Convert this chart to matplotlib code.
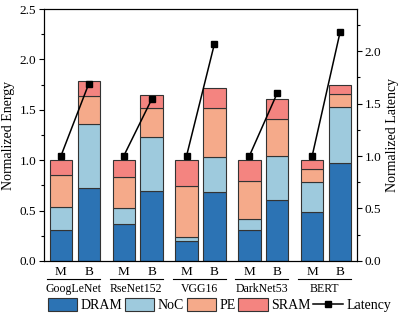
import matplotlib
matplotlib.use("Agg")
import matplotlib.pyplot as plt
import matplotlib.transforms as mtransforms
from matplotlib.ticker import MultipleLocator
import numpy as np

plt.rcParams['font.family'] = ['Liberation Serif', 'DejaVu Serif']

models = ['GoogLeNet', 'RseNet152', 'VGG16', 'DarkNet53', 'BERT']
configs = ['M', 'B']

# energy breakdown, order per model: M, B
dram = [0.31, 0.72, 0.37, 0.69, 0.20, 0.68, 0.31, 0.60, 0.49, 0.97]
noc = [0.23, 0.64, 0.16, 0.54, 0.04, 0.35, 0.11, 0.44, 0.29, 0.56]
pe = [0.31, 0.28, 0.30, 0.29, 0.50, 0.49, 0.37, 0.37, 0.13, 0.13]
sram = [0.15, 0.15, 0.17, 0.13, 0.26, 0.20, 0.21, 0.20, 0.09, 0.09]

latency_m = [1.0, 1.0, 1.0, 1.0, 1.0]
latency_b = [1.69, 1.54, 2.07, 1.60, 2.18]

colors = {'DRAM': '#2c73b4', 'NoC': '#9ecadd', 'PE': '#f5aa8a', 'SRAM': '#f48480'}

group_stride = 2.25
xpos = []
for g in range(len(models)):
    xpos += [g * group_stride, g * group_stride + 1]
xpos = np.array(xpos)

fig = plt.figure(figsize=(3.99, 3.14), dpi=100)
ax = fig.add_axes([0.110, 0.169, 0.785, 0.802])
ax2 = ax.twinx()

bottom = np.zeros(len(xpos))
handles = []
for name, vals in [('DRAM', dram), ('NoC', noc), ('PE', pe), ('SRAM', sram)]:
    h = ax.bar(xpos, vals, 0.8, bottom=bottom, color=colors[name],
               edgecolor='#333333', linewidth=0.8, label=name, zorder=2)
    bottom += np.array(vals)
    handles.append(h)

for g in range(len(models)):
    x0 = g * group_stride
    ln, = ax2.plot([x0, x0 + 1], [latency_m[g], latency_b[g]], color='black',
                   marker='s', markersize=4, linewidth=1.1, label='Latency', zorder=3)
handles.append(ln)

ax.set_xlim(xpos[0] - 0.61, xpos[-1] + 0.61)
ax.set_ylim(0, 2.5)
ax2.set_ylim(0, 2.4)
for a in (ax, ax2):
    a.yaxis.set_major_locator(MultipleLocator(0.5))
    a.yaxis.set_minor_locator(MultipleLocator(0.25))
    a.tick_params(axis='y', labelsize=9.5, length=3.5, width=0.8, pad=2)
    a.tick_params(axis='y', which='minor', length=2, width=0.8)
ax.set_xticks([])
ax.set_ylabel('Normalized Energy', fontsize=10, labelpad=3)
ax2.set_ylabel('Normalized Latency', fontsize=10, labelpad=3)

trans = mtransforms.blended_transform_factory(ax.transData, ax.transAxes)
for i, x in enumerate(xpos):
    ax.text(x, -0.02, configs[i % 2], transform=trans, ha='center', va='top', fontsize=9.5)
for g, name in enumerate(models):
    x0 = g * group_stride
    ax.plot([x0 - 0.5, x0 + 1.4], [-0.072, -0.072], transform=trans,
            color='black', linewidth=0.8, clip_on=False)
    ax.text(x0 + 0.45, -0.088, name, transform=trans, ha='center', va='top', fontsize=8.5)

fig.legend(handles=handles, labels=['DRAM', 'NoC', 'PE', 'SRAM', 'Latency'],
           loc='center', bbox_to_anchor=(0.55, 0.028), ncol=5, frameon=False,
           fontsize=10, handlelength=2.1, handleheight=1.0, handletextpad=0.25,
           columnspacing=0.2, borderaxespad=0)

fig.savefig('out.png', dpi=100)
